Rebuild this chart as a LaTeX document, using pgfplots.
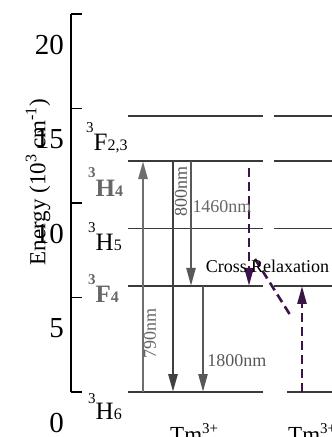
\documentclass[border=0pt]{standalone}
\usepackage{fontspec}
\setmainfont{Liberation Serif}
\usepackage{pgfplots}
\pgfplotsset{compat=1.18}
\usetikzlibrary{arrows.meta}
\definecolor{lvl}{HTML}{3A3A3A}
\definecolor{agray}{HTML}{6E6E6E}
\definecolor{adark}{HTML}{404040}
\definecolor{amid}{HTML}{585858}
\definecolor{purp}{HTML}{3C1548}
\definecolor{lblgray}{HTML}{666666}
\newcommand{\lv}[3]{{\fontsize{15}{15}\selectfont\raisebox{#1}{3}}{\fontsize{25}{25}\selectfont #2}{\fontsize{16}{16}\selectfont #3}}
\begin{document}
\begin{tikzpicture}
\useasboundingbox (0,0) rectangle (332pt,437pt);
\clip (0,0) rectangle (332pt,437pt);
\begin{axis}[
  at={(71pt,45pt)}, anchor=south west, scale only axis,
  width=261pt, height=378pt,
  xmin=71, xmax=332, ymin=0, ymax=20,
  axis x line=none, axis y line=left,
  axis line style={-, line width=1.1pt, black},
  xtick=\empty,
  ytick={0,5,10,15,20}, yticklabels={0,5,10,15,20},
  tick align=inside, major tick length=11pt,
  tick style={line width=1.1pt, black},
  yticklabel style={font=\fontsize{29}{29}\selectfont, yshift=-31pt, inner sep=0pt, xshift=-7pt},
  ylabel={Energy (10\textsuperscript{3} cm\textsuperscript{-1})},
  ylabel style={at={(rel axis cs:-0.1264,0.5556)}, anchor=center, font=\fontsize{23}{23}\selectfont},
  clip=false,
]
% energy levels, left ion
\addplot[lvl, line width=1.5pt] coordinates {(128,14.60) (263,14.60)};
\addplot[lvl, line width=1.5pt] coordinates {(128,12.22) (263,12.22)};
\addplot[lvl, line width=1.5pt] coordinates {(128,8.65) (263,8.65)};
\addplot[lvl, line width=1.5pt] coordinates {(128,5.61) (263,5.61)};
\addplot[lvl, line width=1.5pt] coordinates {(128,0) (263,0)};
% energy levels, right ion
\addplot[lvl, line width=1.5pt] coordinates {(274,14.60) (332,14.60)};
\addplot[lvl, line width=1.5pt] coordinates {(274,12.22) (332,12.22)};
\addplot[lvl, line width=1.5pt] coordinates {(274,8.65) (332,8.65)};
\addplot[lvl, line width=1.5pt] coordinates {(274,5.61) (332,5.61)};
\addplot[lvl, line width=1.5pt] coordinates {(287,0) (332,0)};
% transitions
\addplot[agray, line width=2.6pt, -{Triangle[length=18pt,width=9pt]}] coordinates {(143,0) (143,12.22)};
\addplot[adark, line width=2.8pt, -{Triangle[length=18pt,width=9pt]}] coordinates {(173,12.22) (173,0)};
\addplot[amid, line width=2.4pt, -{Triangle[length=18pt,width=9pt]}] coordinates {(191,12.22) (191,5.61)};
\addplot[amid, line width=2.4pt, -{Triangle[length=18pt,width=9pt]}] coordinates {(203,5.61) (203,0)};
\addplot[purp, line width=2.6pt, dash pattern=on 9pt off 5pt, -{Triangle[length=18pt,width=9pt]}] coordinates {(249,11.85) (249,5.61)};
\addplot[purp, line width=2.6pt, dash pattern=on 9pt off 5pt] coordinates {(255,7.04) (292,3.92)};
\addplot[purp, line width=2.6pt, dash pattern=on 9pt off 5pt, -{Triangle[length=18pt,width=9pt]}] coordinates {(302,0) (302,5.61)};
% transition labels
\node[rotate=90, lblgray, font=\fontsize{18}{18}\selectfont, inner sep=0pt] at (axis cs:150,3.12) {790nm};
\node[rotate=90, amid, font=\fontsize{18}{18}\selectfont, inner sep=0pt] at (axis cs:181,10.63) {800nm};
\node[lblgray, font=\fontsize{18}{18}\selectfont, inner sep=0pt] at (axis cs:222,9.79) {1460nm};
\node[amid, font=\fontsize{18}{18}\selectfont, inner sep=0pt] at (axis cs:237,1.64) {1800nm};
\node[black, font=\fontsize{18}{18}\selectfont, inner sep=0pt] at (axis cs:267.5,6.67) {Cross Relaxation};
% level labels
\node[anchor=base west, inner sep=0pt] at (axis cs:86,12.80) {\lv{18pt}{F}{2,3}};
\node[anchor=base west, inner sep=0pt, lblgray, font=\bfseries] at (axis cs:88,10.32) {\lv{19pt}{H}{4}};
\node[anchor=base west, inner sep=0pt] at (axis cs:88,7.51) {\lv{18pt}{H}{5}};
\node[anchor=base west, inner sep=0pt, lblgray, font=\bfseries] at (axis cs:88,4.76) {\lv{18pt}{F}{4}};
\node[anchor=base west, inner sep=0pt] at (axis cs:88,-1.43) {\lv{16pt}{H}{6}};
% ion labels
\node[anchor=base west, inner sep=0pt, font=\fontsize{23}{23}\selectfont] at (axis cs:170,-2.65) {Tm{\fontsize{15}{15}\selectfont\raisebox{9pt}{3+}}};
\node[anchor=base west, inner sep=0pt, font=\fontsize{23}{23}\selectfont] at (axis cs:288,-2.65) {Tm{\fontsize{15}{15}\selectfont\raisebox{9pt}{3+}}};
\end{axis}
\end{tikzpicture}
\end{document}
